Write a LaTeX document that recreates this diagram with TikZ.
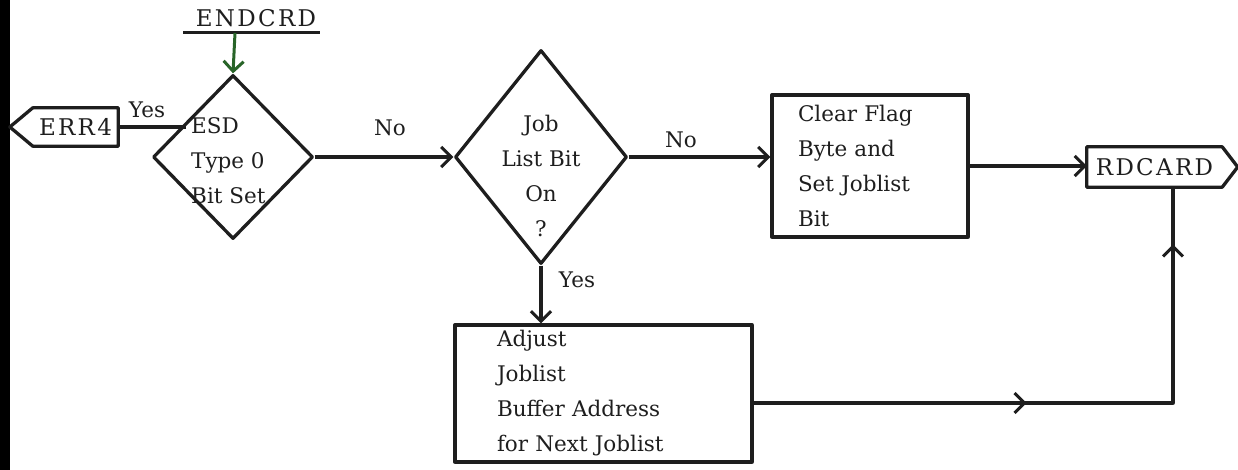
\documentclass[tikz,border=0pt]{standalone}
\usepackage{fontspec}
\setmainfont{DejaVu Serif}
\newfontfamily\capsfont[LetterSpace=10]{DejaVu Serif}
\usetikzlibrary{shapes.geometric,arrows.meta,decorations.markings,calc}
\definecolor{lnk}{RGB}{30,30,30}
\definecolor{grn}{RGB}{40,100,40}
\begin{document}
\begin{tikzpicture}[x=1pt,y=-1pt,
  every node/.style={font=\fontsize{21.5}{35}\selectfont, text=lnk},
  capsn/.style={font=\capsfont\fontsize{23}{35}\selectfont},
  ln/.style={line width=3.3pt, draw=lnk, line join=round},
  tip/.style={-{Straight Barb[length=10pt,width=20pt,line width=3pt]}},
  dec/.style={diamond, ln, inner sep=0pt},
  boxn/.style={rectangle, ln, inner sep=0pt, align=left},
  lab/.style={inner sep=0pt}
]
\useasboundingbox (0,0) rectangle (1238,470);
\fill[black] (0,0) rectangle (10,470);

% ENDCRD connector
\node[lab, capsn] (endcrd) at (256,18) {ENDCRD};
\draw[line width=3pt, draw=lnk] (183,33) -- (320,33);
\coordinate (ul) at (235,33);

% decision 1
\node[dec, minimum width=160pt, minimum height=164pt] (d1) at (233,157) {};
\node[lab, anchor=west, align=left] (d1t) at (191,161) {ESD\\Type 0\\Bit Set};

% ERR4 exit
\node[lab, capsn, minimum width=85pt, minimum height=38pt] (err4) at (75.5,127) {ERR4};
\draw[ln] (err4.north west) -- (err4.north east) -- (err4.south east) -- (err4.south west) -- ($(err4.west)+(-23,0)$) -- cycle;

% decision 2
\node[dec, minimum width=172pt, minimum height=214pt] (d2) at (541,157) {};
\node[lab, align=center] (d2t) at (541,176) {Job\\List Bit\\On\\?};

% boxes
\node[boxn, minimum width=196pt, minimum height=142pt, text width=144pt] (c1) at (870,166) {Clear Flag\\Byte and\\Set Joblist\\Bit};
\node[boxn, minimum width=297pt, minimum height=137pt, text width=213pt] (adj) at (603.5,393.5) {Adjust\\Joblist\\Buffer Address\\for Next Joblist};

% RDCARD exit
\node[lab, capsn, minimum width=135pt, minimum height=40pt] (rd) at (1154.5,167) {RDCARD};
\draw[ln] (rd.north west) -- (rd.north east) -- ($(rd.east)+(15.5,0)$) -- (rd.south east) -- (rd.south west) -- cycle;

\coordinate (corner) at (1173,403);

% connectors
\draw[line width=3pt, draw=grn, tip] (ul) -- (d1.north);
\draw[ln] (err4.east) -- (err4.east -| d1.143);
\draw[ln, tip] (d1.east) -- (d1.east -| d2.west);
\draw[ln, tip] (d2.east) -- (d2.east -| c1.west);
\draw[ln, tip] (c1.east) -- (c1.east -| rd.west);
\draw[ln, tip] (d2.south) -- (d2.south |- adj.north);
\draw[ln, postaction={decorate}, decoration={markings,
    mark=at position 273pt with {\arrow{Straight Barb[length=10pt,width=20pt,line width=3pt]}},
    mark=at position 578pt with {\arrow{Straight Barb[length=10pt,width=20pt,line width=3pt]}}}]
  (adj.east |- corner) -- (corner) -- (corner |- rd.south);

% labels
\node[lab] (l1) at (147,110) {Yes};
\node[lab] (l2) at (390,128) {No};
\node[lab] (l3) at (681,140) {No};
\node[lab] (l4) at (577,280) {Yes};
\end{tikzpicture}
\end{document}
